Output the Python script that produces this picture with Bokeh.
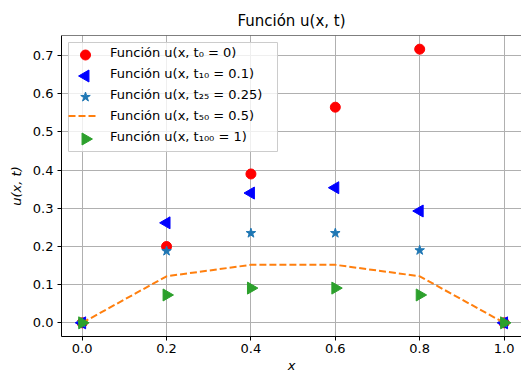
import math
from bokeh.plotting import figure
from bokeh.models import Range1d, Legend, LegendItem, Span
from bokeh.embed import file_html
from bokeh.resources import INLINE

# ---- data ----
x = [0.0, 0.2, 0.4, 0.6, 0.8, 1.0]
u_t0 = [0.0, 0.200, 0.390, 0.565, 0.717, 0.0]
u_t10 = [0.0, 0.262, 0.340, 0.354, 0.293, 0.0]
u_t25 = [0.0, 0.188, 0.235, 0.235, 0.190, 0.0]
u_t50 = [0.0, 0.122, 0.152, 0.152, 0.122, 0.0]
u_t100 = [0.0, 0.073, 0.091, 0.091, 0.073, 0.0]

labels = [
    "Función u(x, t₀ = 0)",
    "Función u(x, t₁₀ = 0.1)",
    "Función u(x, t₂₅ = 0.25)",
    "Función u(x, t₅₀ = 0.5)",
    "Función u(x, t₁₀₀ = 1)",
]
x_ticks = [0.0, 0.2, 0.4, 0.6, 0.8, 1.0]
x_tick_labels = ["0.0", "0.2", "0.4", "0.6", "0.8", "1.0"]
y_ticks = [0.0, 0.1, 0.2, 0.3, 0.4, 0.5, 0.6, 0.7]
y_tick_labels = ["0.0", "0.1", "0.2", "0.3", "0.4", "0.5", "0.6", "0.7"]

FONT = "DejaVu Sans"
FRAME_W, FRAME_H = 460, 301
Y_LO, Y_HI = -0.0358, 0.7528

p = figure(
    frame_width=FRAME_W, frame_height=FRAME_H,
    output_backend="svg", toolbar_location=None,
    x_range=Range1d(-0.049, 1.0413),
    y_range=Range1d(Y_LO, Y_HI),
    min_border_left=0, min_border_right=0,
    min_border_top=0, min_border_bottom=0,
    title="Función u(x, t)",
    margin=(3, 0, 0, 5),
)
p.extra_x_ranges = {"px": Range1d(0, FRAME_W)}
p.extra_y_ranges = {"px": Range1d(FRAME_H, 0)}
p.background_fill_color = "white"
p.border_fill_color = "white"
p.outline_line_color = None

p.title.align = "center"
p.title.text_font = FONT
p.title.text_font_size = "15px"
p.title.text_font_style = "normal"
p.title.text_color = "black"
p.title.standoff = 12

for g in (p.xgrid, p.ygrid):
    g.grid_line_color = "#b0b0b0"
    g.grid_line_width = 1

p.xaxis.ticker = x_ticks
p.xaxis.major_label_overrides = {t: l for t, l in zip(x_ticks, x_tick_labels)}
p.yaxis.ticker = y_ticks
p.yaxis.major_label_overrides = {t: l for t, l in zip(y_ticks, y_tick_labels)}
for ax in (p.xaxis, p.yaxis):
    ax.axis_line_color = "black"
    ax.major_tick_line_color = "black"
    ax.minor_tick_line_color = None
    ax.major_tick_out = 4
    ax.major_tick_in = 0
    ax.major_label_text_font = FONT
    ax.major_label_text_font_size = "13px"
    ax.major_label_text_color = "black"
    ax.major_label_standoff = 4
    ax.axis_label_text_font = FONT
    ax.axis_label_text_font_size = "13px"
    ax.axis_label_text_font_style = "italic"
    ax.axis_label_text_color = "black"
p.xaxis.axis_label = "x"
p.yaxis.axis_label = "u(x, t)"
p.xaxis.major_label_standoff = 3
p.xaxis.axis_label_standoff = 2
p.yaxis.axis_label_standoff = 6

# top spine
p.add_layout(Span(location=Y_HI, dimension="width", line_color="black", line_width=1))

# ---- legend box (background drawn under the keys) ----
MARGIN, PAD, GW, ROW, STANDOFF = 7, 2, 30, 21, 12
LEG_W = 209
LEG_H = 2 * PAD + ROW * len(labels)
p.quad(left=[MARGIN], right=[MARGIN + LEG_W], top=[MARGIN], bottom=[MARGIN + LEG_H],
       x_range_name="px", y_range_name="px",
       fill_color="white", fill_alpha=0.8, line_color="#cccccc", line_width=1)

# ---- series ----
CIRCLE = dict(marker="circle", size=10, color="red")
LEFT = dict(marker="triangle", angle=math.pi / 2, size=12, color="blue")
STAR = dict(marker="star", size=10, color="#1f77b4")
RIGHT = dict(marker="triangle", angle=-math.pi / 2, size=12, color="#2ca02c")

p.scatter(x, u_t0, **CIRCLE)
p.scatter(x, u_t10, **LEFT)
p.scatter(x, u_t25, **STAR)
r_line = p.line(x, u_t50, line_dash="7 3", line_width=2, color="#ff7f0e")
p.scatter(x, u_t100, **RIGHT)


def dummy():
    return p.scatter(x=[], y=[], marker="circle", fill_alpha=0, line_alpha=0)


items = [
    LegendItem(label=labels[0], renderers=[dummy()]),
    LegendItem(label=labels[1], renderers=[dummy()]),
    LegendItem(label=labels[2], renderers=[dummy()]),
    LegendItem(label=labels[3], renderers=[r_line]),
    LegendItem(label=labels[4], renderers=[dummy()]),
]
legend = Legend(
    items=items, location="top_left", margin=MARGIN, padding=PAD, spacing=0,
    glyph_width=GW, glyph_height=ROW, label_height=ROW, label_standoff=STANDOFF,
    label_text_font=FONT, label_text_font_size="13px", label_text_color="black",
    border_line_color=None, background_fill_alpha=0,
)
p.add_layout(legend)

# legend keys for the markers (rotated triangles cannot be drawn by the legend itself)
key_x = MARGIN + PAD + GW / 2
for i, style in [(0, CIRCLE), (1, LEFT), (2, STAR), (4, RIGHT)]:
    key_y = MARGIN + PAD + ROW * (i + 0.5)
    p.scatter([key_x], [key_y], x_range_name="px", y_range_name="px", **style)

open("out.html", "w").write(file_html(p, INLINE))
